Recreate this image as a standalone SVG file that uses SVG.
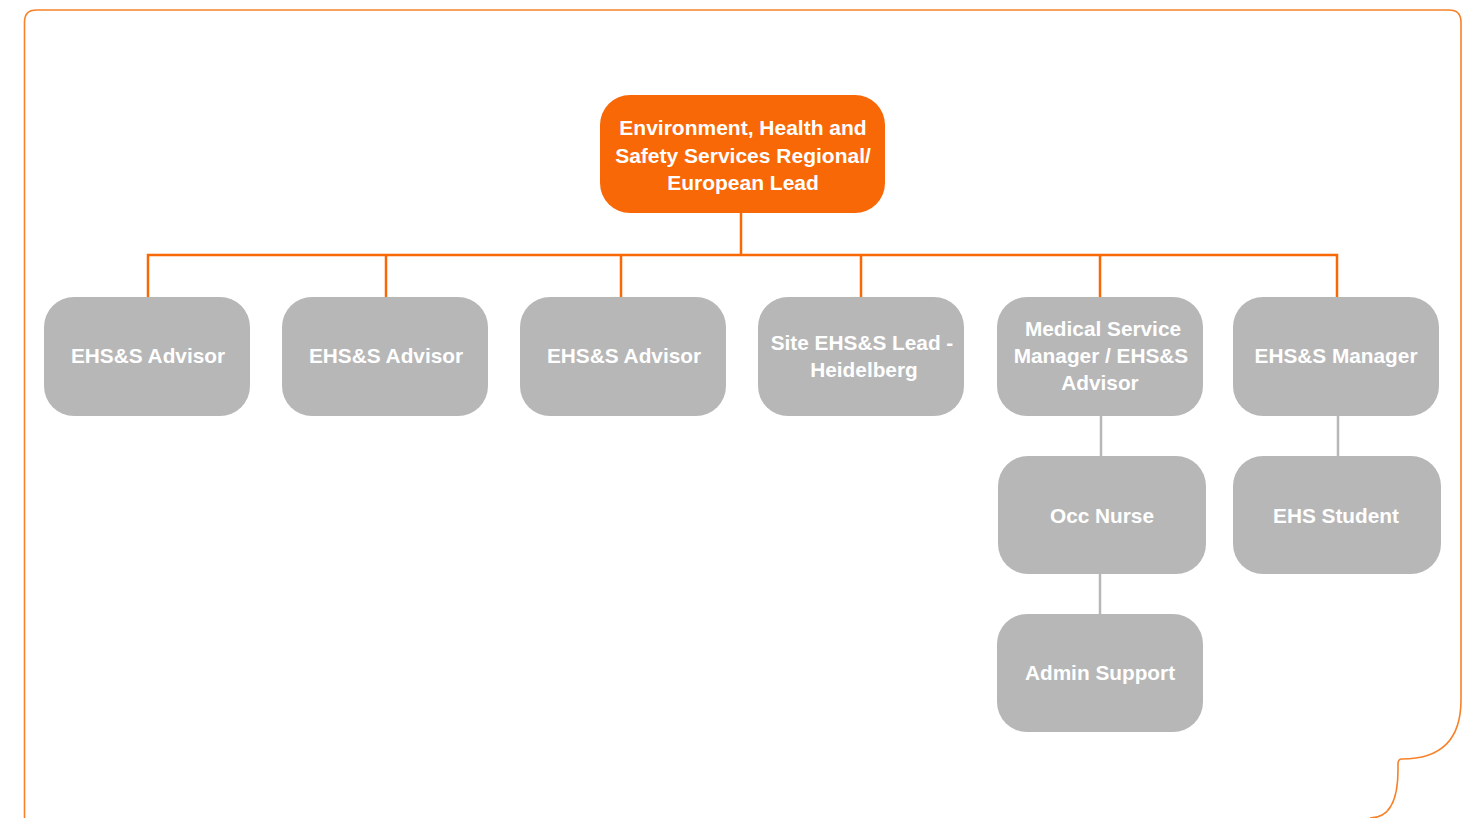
<svg xmlns="http://www.w3.org/2000/svg" width="1468" height="818" viewBox="0 0 1468 818">
<style>
.frame{fill:none;stroke:#F7822A;stroke-width:1.6}
.lead rect{fill:#F96807}
.node rect{fill:#B7B7B7}
text{font-family:"Liberation Sans",Arial,sans-serif;font-weight:bold;fill:#FFFFFF;text-anchor:middle}
.lead text{font-size:21px}
.node text{font-size:20.8px}
.oc{stroke:#F96807;stroke-width:2.5;fill:none}
.gc{stroke:#B7B7B7;stroke-width:2.5;fill:none}
</style>
<rect width="1468" height="818" fill="#FFFFFF"/>
<path class="frame" d="M24.5 818 V22 Q24.5 10 36.5 10 H1449 Q1461 10 1461 22 V700 Q1461 759 1402 759 Q1398 759 1398 764 V770 Q1398 818 1370 818"/>
<g id="connectors">
<path class="oc" d="M741 213 V255 M148 297 V255 H1337 V297 M386 255 V297 M621 255 V297 M861 255 V297 M1100 255 V297"/>
<path class="gc" d="M1101 416 V456 M1100 574 V614 M1338 416 V456"/>
</g>
<g id="lead" class="lead">
<rect x="600" y="95" width="285" height="118" rx="30"/>
<text x="743" y="134.5">Environment, Health and</text>
<text x="743" y="162.5">Safety Services Regional/</text>
<text x="743" y="189.5">European Lead</text>
</g>
<g id="advisor1" class="node">
<rect x="44" y="297" width="206" height="119" rx="30"/>
<text x="148" y="363">EHS&amp;S Advisor</text>
</g>
<g id="advisor2" class="node">
<rect x="282" y="297" width="206" height="119" rx="30"/>
<text x="386" y="363">EHS&amp;S Advisor</text>
</g>
<g id="advisor3" class="node">
<rect x="520" y="297" width="206" height="119" rx="30"/>
<text x="624" y="363">EHS&amp;S Advisor</text>
</g>
<g id="site-lead" class="node">
<rect x="758" y="297" width="206" height="119" rx="30"/>
<text x="862" y="350">Site EHS&amp;S Lead -</text>
<text x="864" y="377">Heidelberg</text>
</g>
<g id="medical" class="node">
<rect x="997" y="297" width="206" height="119" rx="30"/>
<text x="1103" y="336">Medical Service</text>
<text x="1101" y="363">Manager / EHS&amp;S</text>
<text x="1100" y="390">Advisor</text>
</g>
<g id="manager" class="node">
<rect x="1233" y="297" width="206" height="119" rx="30"/>
<text x="1336" y="363">EHS&amp;S Manager</text>
</g>
<g id="occ-nurse" class="node">
<rect x="998" y="456" width="208" height="118" rx="30"/>
<text x="1102" y="523">Occ Nurse</text>
</g>
<g id="student" class="node">
<rect x="1233" y="456" width="208" height="118" rx="30"/>
<text x="1336" y="523">EHS Student</text>
</g>
<g id="admin" class="node">
<rect x="997" y="614" width="206" height="118" rx="30"/>
<text x="1100" y="680">Admin Support</text>
</g>
</svg>
